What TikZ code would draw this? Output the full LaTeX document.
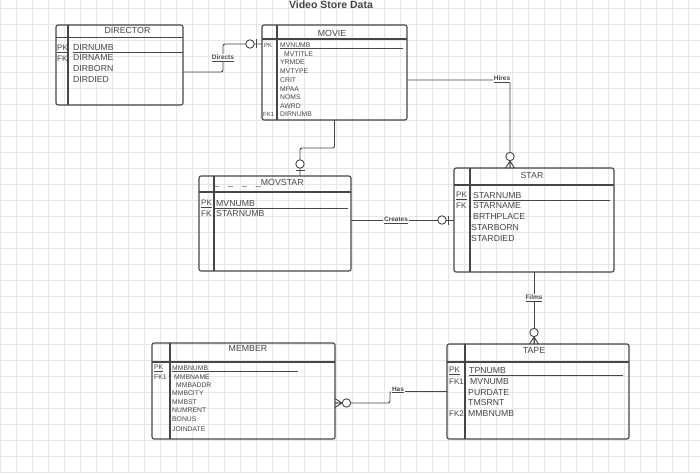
\documentclass[tikz,border=0pt]{standalone}
\usepackage{fontspec}
\setmainfont{Liberation Sans}
\definecolor{ink}{HTML}{464646}
\definecolor{gridc}{HTML}{E6E6E6}
\tikzset{
  zeroone/.pic={
    \draw[ink, line width=0.9pt] (-6,-4.5) -- (-6,4.5);
    \draw[ink, line width=0.9pt, fill=white] (-12,0) circle (4.2pt);},
  zeromany/.pic={
    \draw[ink, line width=0.9pt] (-7,0) -- (0,-4.5) (-7,0) -- (0,0) (-7,0) -- (0,4.5);
    \draw[ink, line width=0.9pt, fill=white] (-11.5,0) circle (4.2pt);}
}
\begin{document}
\begin{tikzpicture}[x=1pt, y=-1pt,
  entity/.style={draw=ink, line width=1.1pt, rounded corners=2pt, anchor=north west, inner sep=0pt, outer sep=0pt},
  sepline/.style={draw=ink, line width=1.1pt},
  keyline/.style={draw=ink, line width=0.9pt},
  etitle/.style={text=ink, inner sep=0pt, font=\fontsize{8.8}{9}\selectfont},
  attr/.style={text=ink, anchor=west, inner sep=0pt, font=\fontsize{8.7}{9}\selectfont},
  keyattr/.style={attr, font=\fontsize{8}{9}\selectfont},
  sattr/.style={attr, font=\fontsize{6.8}{7}\selectfont},
  rel/.style={draw=ink, line width=0.9pt, rounded corners=2pt},
  rlabel/.style={fill=white, text=ink, inner sep=0.8pt, font=\bfseries\fontsize{6.5}{7}\selectfont},
  gridline/.style={draw=gridc, line width=0.6pt}]
\useasboundingbox (0,0) rectangle (700,473);
% Background grid
\fill[white] (0,0) rectangle (700,473);
\foreach \x in {0,16,...,688} \draw[gridline] (\x,0) -- (\x,473);
\foreach \y in {8,24,...,472} \draw[gridline] (0,\y) -- (700,\y);
% Title
\node[text=ink, font=\bfseries\fontsize{10.5}{11}\selectfont, inner sep=0pt] (title) at (331,5) {Video Store Data};

% DIRECTOR
\node[entity, minimum width=127, minimum height=80] (director) at (56,25) {};
\draw[sepline] (68,25) -- (68,105);
\draw[sepline] (56,37.5) -- (183,37.5);
\node[etitle] (director-t) at (127.5,30) {DIRECTOR};
\node[keyattr] (director-pk) at (57,49) {\underline{PK}};
\node[keyattr] (director-fk) at (57,59) {FK};
\draw[keyline] (73,52.5) -- (183,52.5);
\foreach \t/\y [count=\i] in {DIRNUMB/48,DIRNAME/58,DIRBORN/69,DIRDIED/80}
  \node[attr] (director-\i) at (73,\y) {\t};

% MOVIE
\node[entity, minimum width=145, minimum height=95] (movie) at (262,25) {};
\draw[sepline] (277,25) -- (277,120);
\draw[sepline] (262,39) -- (407,39);
\node[etitle] (movie-t) at (332,33) {MOVIE};
\node[sattr, font=\fontsize{6}{6}\selectfont] (movie-pk) at (264,45) {PK};
\node[sattr, font=\fontsize{6}{6}\selectfont] (movie-fk) at (263,114) {FK1};
\draw[keyline] (280,48.5) -- (403,48.5);
\foreach \t/\x/\y [count=\i] in {MVNUMB/280/45,MVTITLE/284/54,YRMDE/280/62,MVTYPE/280/71,CRIT/280/80,MPAA/280/89,NOMS/280/97,AWRD/280/106,DIRNUMB/280/114}
  \node[sattr] (movie-\i) at (\x,\y) {\t};

% MOVSTAR
\node[entity, minimum width=152, minimum height=95] (movstar) at (199,176) {};
\draw[sepline] (214,176) -- (214,271);
\draw[sepline] (199,192) -- (351,192);
\node[etitle] (movstar-t) at (259,183) {\_\hspace{9pt}\_\hspace{9pt}\_\hspace{9pt}\_MOVSTAR};
\node[keyattr] (movstar-pk) at (201,204) {\underline{PK}};
\node[keyattr] (movstar-fk) at (201,214) {FK};
\draw[keyline] (214,208.5) -- (348,208.5);
\node[attr] (movstar-1) at (216,204) {MVNUMB};
\node[attr] (movstar-2) at (216,214) {STARNUMB};

% STAR
\node[entity, minimum width=160, minimum height=104] (star) at (454,168) {};
\draw[sepline] (470,168) -- (470,272);
\draw[sepline] (454,185) -- (614,185);
\node[etitle] (star-t) at (532,175) {STAR};
\node[keyattr] (star-pk) at (456,196) {\underline{PK}};
\node[keyattr] (star-fk) at (456,206) {FK};
\draw[keyline] (473,200) -- (610,200);
\foreach \t/\x/\y [count=\i] in {STARNUMB/473/196,STARNAME/473/206,BRTHPLACE/473/217,STARBORN/471/228,STARDIED/471/239}
  \node[attr] (star-\i) at (\x,\y) {\t};

% TAPE
\node[entity, minimum width=182, minimum height=95] (tape) at (447,344) {};
\draw[sepline] (465,344) -- (465,439);
\draw[sepline] (447,362) -- (629,362);
\node[etitle] (tape-t) at (534,350) {TAPE};
\node[keyattr] (tape-pk) at (449,371) {\underline{PK}};
\node[keyattr] (tape-fk1) at (449,382) {FK1};
\node[keyattr] (tape-fk2) at (449,414) {FK2};
\draw[keyline] (469,375) -- (623,375);
\foreach \t/\x/\y [count=\i] in {TPNUMB/469/371,MVNUMB/470/382,PURDATE/468/393,TMSRNT/468/403,MMBNUMB/468/414}
  \node[attr] (tape-\i) at (\x,\y) {\t};

% MEMBER
\node[entity, minimum width=183, minimum height=96] (member) at (152,343) {};
\draw[sepline] (170,343) -- (170,439);
\draw[sepline] (152,362) -- (335,362);
\node[etitle] (member-t) at (248,348) {MEMBER};
\node[sattr] (member-pk) at (154,368) {\underline{PK}};
\node[sattr] (member-fk) at (154,377) {FK1};
\draw[keyline] (172,371) -- (298,371);
\foreach \t/\x/\y [count=\i] in {MMBNUMB/172/368,MMBNAME/174/377,MMBADDR/176/385,MMBCITY/172/393,MMBST/172/402,NUMRENT/172/410,BONUS/172/419,JOINDATE/172/429}
  \node[sattr] (member-\i) at (\x,\y) {\t};

% Relationships
\draw[rel] ([yshift=-7]director.east) -- ++(40,0) |- ([yshift=28.5]movie.west);
\draw[rel] ([yshift=-7.5]movie.east) -| ([xshift=-24]star.north);
\draw[rel] (movie.south) -- ++(0,28) -| ([xshift=25]movstar.north);
\draw[rel] (movstar.east |- star.west) -- (star.west);
\draw[rel] (star.south) -- (star.south |- tape.north);
\draw[rel] (tape.west) -- ++(-57,0) |- ([yshift=-12]member.east);
% Cardinality ends
\pic at ([yshift=28.5]movie.west) {zeroone};
\pic[rotate=-90] at ([xshift=-24]star.north) {zeromany};
\pic[rotate=-90] at ([xshift=25]movstar.north) {zeroone};
\pic at (star.west) {zeroone};
\pic[rotate=-90] at (star.south |- tape.north) {zeromany};
\pic[rotate=180] at ([yshift=-12]member.east) {zeromany};
% Relationship labels
\node[rlabel] (directs) at (223,58) {\underline{Directs}};
\node[rlabel] (hires) at (502,79) {\underline{Hires}};
\node[rlabel] (creates) at (396,220) {\underline{Creates}};
\node[rlabel] (films) at (534,298) {\underline{Films}};
\node[rlabel] (has) at (398,390) {\underline{Has}};
\end{tikzpicture}
\end{document}
